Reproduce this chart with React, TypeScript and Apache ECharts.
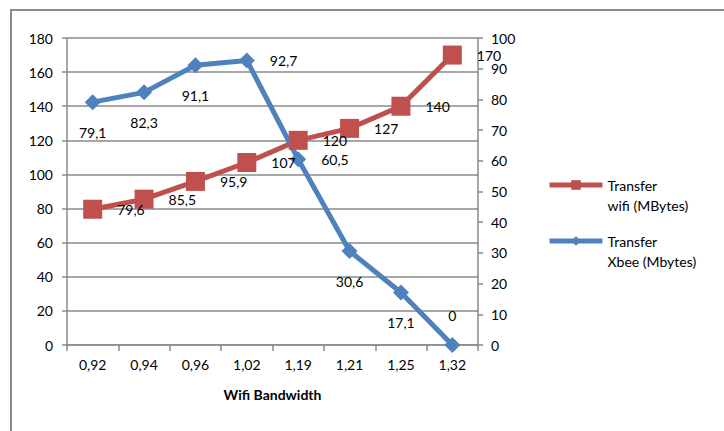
import React, { useEffect, useRef } from "react";
import * as echarts from "echarts";

const categories = ["0,92", "0,94", "0,96", "1,02", "1,19", "1,21", "1,25", "1,32"];
const wifiValues = [79.6, 85.5, 95.9, 107, 120, 127, 140, 170];
const xbeeValues = [79.1, 82.3, 91.1, 92.7, 60.5, 30.6, 17.1, 0];
const leftTicks = { min: 0, max: 180, interval: 20 };
const rightTicks = { min: 0, max: 100, interval: 10 };
const wifiName = "Transfer\nwifi (MBytes)";
const xbeeName = "Transfer\nXbee (Mbytes)";
const xAxisTitle = "Wifi Bandwidth";

const xbeeLabelPos = ["bottom", "bottom", "bottom", "right", "right", "bottom", "bottom", "top"];

const FONT = "Lato, 'Open Sans', sans-serif";
const GRAY = "#8a8a8a";

const fmt = (v: number) => String(v).replace(".", ",");

export default function App() {
  const ref = useRef<HTMLDivElement>(null);
  useEffect(() => {
    document.body.style.margin = "0";
    const chart = echarts.init(ref.current!, null, { renderer: "svg" });
    const labelBase = {
      show: true,
      color: "#000",
      fontFamily: FONT,
      fontSize: 14,
      distance: 15,
    };
    chart.setOption({
      animation: false,
      backgroundColor: "#fff",
      textStyle: { fontFamily: FONT },
      graphic: [
        {
          type: "rect",
          shape: { x: 11, y: 10, width: 760, height: 460 },
          style: { fill: "none", stroke: GRAY, lineWidth: 2 },
          silent: true,
        },
      ],
      grid: { left: 67, right: 246, top: 38, bottom: 86, containLabel: false },
      legend: {
        orient: "vertical",
        left: 547,
        top: 155,
        padding: 0,
        itemWidth: 53,
        itemHeight: 12,
        itemGap: -4,
        data: [wifiName, xbeeName],
        formatter: (name: string) => "\n" + name,
        lineStyle: { width: 5 },
        textStyle: {
          color: "#000",
          fontFamily: FONT,
          fontSize: 14,
          lineHeight: 20,
        },
      },
      xAxis: {
        type: "category",
        data: categories,
        boundaryGap: true,
        axisLine: { lineStyle: { color: GRAY, width: 1.5 } },
        axisTick: { show: true, length: 6, alignWithLabel: false, lineStyle: { color: GRAY, width: 1.5 } },
        axisLabel: { color: "#000", fontFamily: FONT, fontSize: 14, margin: 12 },
        name: xAxisTitle,
        nameLocation: "middle",
        nameGap: 42,
        nameTextStyle: { color: "#000", fontFamily: FONT, fontSize: 14, fontWeight: "bold" },
      },
      yAxis: [
        {
          type: "value",
          position: "left",
          ...leftTicks,
          axisLine: { show: true, lineStyle: { color: GRAY, width: 1.5 } },
          axisTick: { show: true, length: 5, lineStyle: { color: GRAY, width: 1.5 } },
          axisLabel: { color: "#000", fontFamily: FONT, fontSize: 14, margin: 14 },
          splitLine: { show: true, lineStyle: { color: GRAY, width: 1.5 } },
        },
        {
          type: "value",
          position: "right",
          ...rightTicks,
          axisLine: { show: true, lineStyle: { color: GRAY, width: 1.5 } },
          axisTick: { show: true, length: 5, lineStyle: { color: GRAY, width: 1.5 } },
          axisLabel: { color: "#000", fontFamily: FONT, fontSize: 14, margin: 13 },
          splitLine: { show: false },
        },
      ],
      series: [
        {
          name: wifiName,
          type: "line",
          yAxisIndex: 0,
          data: wifiValues,
          symbol: "rect",
          symbolSize: 19,
          itemStyle: { color: "#C0504D" },
          lineStyle: { color: "#C0504D", width: 5 },
          label: { ...labelBase, position: "right", formatter: (p: any) => fmt(p.value) },
        },
        {
          name: xbeeName,
          type: "line",
          yAxisIndex: 1,
          data: xbeeValues.map((v, i) => ({
            value: v,
            label: { position: xbeeLabelPos[i] },
          })),
          symbol: "diamond",
          symbolSize: 16,
          itemStyle: { color: "#4F81BD" },
          lineStyle: { color: "#4F81BD", width: 5 },
          label: { ...labelBase, formatter: (p: any) => fmt(p.value) },
        },
      ],
    });
    return () => chart.dispose();
  }, []);
  return <div ref={ref} style={{ width: 724, height: 431 }} />;
}
